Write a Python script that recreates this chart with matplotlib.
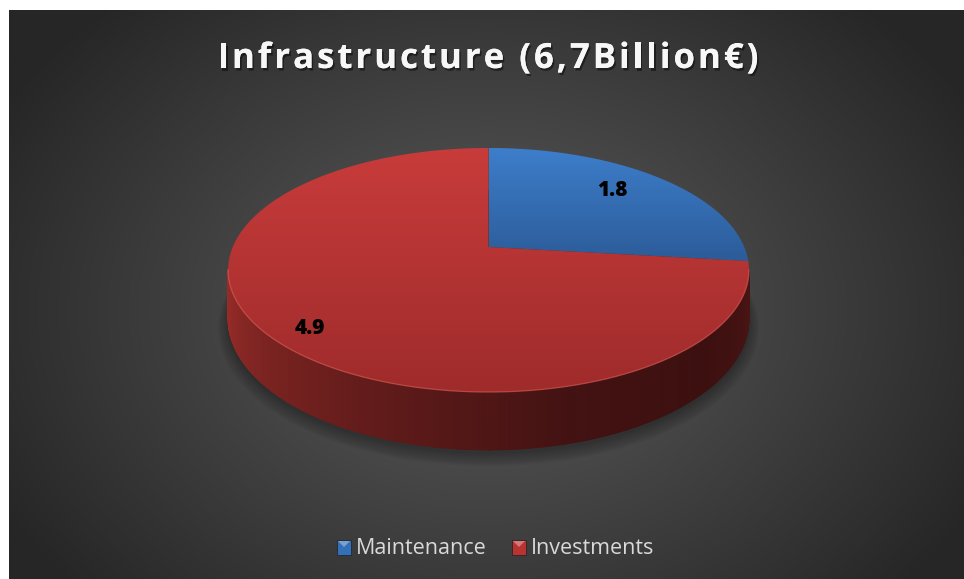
import numpy as np
import matplotlib
matplotlib.use("Agg")
import matplotlib.pyplot as plt
from matplotlib.patches import Polygon, Rectangle
from matplotlib.colors import LinearSegmentedColormap, to_rgb
from matplotlib.font_manager import FontProperties, findfont, get_font
import matplotlib.patheffects as pe

# ---- data ----
title = "Infrastructure (6,7Billion€)"
categories = ["Maintenance", "Investments"]
values = [1.8, 4.9]
top_colors = [("#3d7ecb", "#2c5c99"), ("#c83c3b", "#9f2b2b")]
legend_colors = ["#3470b8", "#b83332"]

W, H = 964, 579
DPI = 100
fig = plt.figure(figsize=(W / DPI, H / DPI), dpi=DPI)
fig.patch.set_facecolor("white")
ax = fig.add_axes([0, 0, 1, 1])
ax.set_xlim(0, W)
ax.set_ylim(H, 0)
ax.axis("off")

# ---- chart area background: radial gradient ----
x0, x1, y0, y1 = 9, W, 10, H
gx, gy = np.meshgrid(np.linspace(x0, x1, 400), np.linspace(y0, y1, 300))
rr = np.sqrt(((gx - 488) / 560.0) ** 2 + ((gy - 310) / 420.0) ** 2)
rr = np.clip(rr, 0, 1)
c_in, c_out = np.array(to_rgb("#5a5a5a")), np.array(to_rgb("#262626"))
bg = c_in[None, None, :] * (1 - rr[..., None] ** 1.1) + c_out[None, None, :] * rr[..., None] ** 1.1
ax.imshow(bg, extent=[x0, x1, y1, y0], zorder=0, interpolation="bilinear")

# ---- projection of a tilted disk with perspective ----
cx, cy = 488.5, 247.0
S = 255.8        # horizontal scale
SB = 117.7       # vertical scale of the disk plane
K = 0.1885       # perspective strength
DEPTH = 47.0     # thickness of the pie


def project(X, Z, drop=0.0):
    w = 1.0 + K * Z
    return cx + S * X / w, cy - SB * Z / w + drop / w


def arc(t0, t1, r=1.0, n=200, drop=0.0):
    t = np.radians(np.linspace(t0, t1, n))
    return project(r * np.cos(t), r * np.sin(t), drop)


total = sum(values)
angles = [v / total * 360.0 for v in values]
starts = []
a = 90.0
for ang in angles:
    starts.append(a)
    a -= ang

# soft shadow below the pie
for i in range(10):
    f = 1.0 + i * 0.004
    sx, sy = arc(0, 360, r=f, drop=DEPTH + 3 + i * 0.5)
    ax.fill(sx, sy, color="black", alpha=0.03, lw=0, zorder=1)

# ---- side wall (front half) ----
ts = np.degrees(np.arcsin(K))
front = np.linspace(180 + ts, 360 - ts, 240)
side_cmap = LinearSegmentedColormap.from_list(
    "side", ["#9a2d29", "#7a2321", "#5c1a19", "#431212", "#3d1010", "#4a1414"])
for i in range(len(front) - 1):
    ta, tb = np.radians(front[i]), np.radians(front[i + 1])
    xa, ya = project(np.cos(ta), np.sin(ta))
    xb, yb = project(np.cos(tb), np.sin(tb))
    xa2, ya2 = project(np.cos(ta), np.sin(ta), DEPTH)
    xb2, yb2 = project(np.cos(tb), np.sin(tb), DEPTH)
    frac = i / (len(front) - 2)
    ax.add_patch(Polygon([(xa, ya), (xb, yb), (xb2, yb2), (xa2, ya2)],
                         closed=True, facecolor=side_cmap(frac),
                         edgecolor=side_cmap(frac), lw=0.6, zorder=2))

# ---- top face slices ----
for start, ang, (c_top, c_bot) in zip(starts, angles, top_colors):
    ex, ey = arc(start, start - ang, n=300)
    px = np.concatenate([[cx], ex])
    py = np.concatenate([[cy], ey])
    poly = Polygon(np.column_stack([px, py]), closed=True, facecolor="none",
                   edgecolor="none", zorder=3)
    ax.add_patch(poly)
    grad = np.linspace(0, 1, 256)[:, None]
    cmap = LinearSegmentedColormap.from_list("g", [c_top, c_bot])
    im = ax.imshow(grad, cmap=cmap, aspect="auto",
                   extent=[px.min(), px.max(), py.max(), py.min()], zorder=3)
    im.set_clip_path(poly)

# light rim along the front edge of the top face
rx, ry = arc(180 + ts, 360 - ts, n=300)
ax.plot(rx, ry, color="#e0605a", lw=0.9, alpha=0.6, zorder=4)

# ---- data labels ----
label_r = [0.75, 0.87]
label_turn = 3.2   # degrees, labels sit slightly counter-clockwise of the mid-angle
for start, ang, v, r in zip(starts, angles, values, label_r):
    mid = np.radians(start - ang / 2 + label_turn)
    lx, ly = project(r * np.cos(mid), r * np.sin(mid))
    ax.text(lx, ly, f"{v:.1f}", ha="center", va="center", fontsize=15,
            fontweight=800, color="black", family="Open Sans", zorder=5)

# ---- title, drawn glyph by glyph with extra tracking ----
t_size = 25
t_track = 3.0
t_prop = FontProperties(family="Open Sans", weight="bold", size=t_size)
ft = get_font(findfont(t_prop))
ft.set_size(t_size, DPI)
advances = []
for ch in title:
    g = ft.load_char(ord(ch))
    advances.append(g.linearHoriAdvance / 65536.0)
t_width = sum(advances) + t_track * (len(title) - 1)
tx = 488 - t_width / 2
shadow = [pe.withSimplePatchShadow(offset=(1.2, -1.8), shadow_rgbFace="black", alpha=0.45),
          pe.Normal()]
for ch, adv in zip(title, advances):
    ax.text(tx, 68, ch, ha="left", va="baseline", fontproperties=t_prop,
            color="#f7f7f7", zorder=6, path_effects=shadow)
    tx += adv + t_track

# ---- legend ----
lx = [337, 512]
for x, name, col in zip(lx, categories, legend_colors):
    ax.add_patch(Rectangle((x, 540), 14, 15, facecolor=col,
                           edgecolor="#202020", lw=0.5, zorder=6))
    tri = Polygon([(x + 1, 541), (x + 13, 541), (x + 7, 547)], closed=True,
                  facecolor="white", alpha=0.35, lw=0, zorder=7)
    ax.add_patch(tri)
    ax.text(x + 19, 548, name, ha="left", va="center", fontsize=15.5,
            color="#d9d9d9", family="Open Sans", zorder=6)

fig.savefig("out.png", dpi=DPI, facecolor="white")
